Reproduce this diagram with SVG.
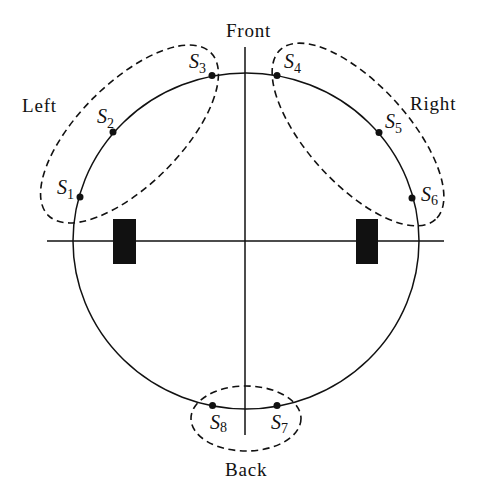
<svg xmlns="http://www.w3.org/2000/svg" width="480" height="500" viewBox="0 0 480 500">
<style>
.ln{fill:none;stroke:#111;stroke-width:1.5}
.dash{fill:none;stroke:#111;stroke-width:1.6;stroke-dasharray:7 4.5}
.dot{fill:#111}
.blk{fill:#111}
.lbl{font-family:"Liberation Serif",serif;font-size:19px;fill:#111;letter-spacing:0.8px}
.s{font-family:"Liberation Serif",serif;font-style:italic;font-size:20px;fill:#111}
.sub{font-style:normal;font-size:14px}
</style>
<rect width="480" height="500" fill="#fff"/>
<g id="connectors">
<line class="ln" x1="245" y1="47" x2="245" y2="435"/>
<line class="ln" x1="47" y1="241" x2="444" y2="241"/>
</g>
<g id="head">
<ellipse class="ln" cx="246" cy="241" rx="173" ry="168"/>
</g>
<g id="ear-left"><rect class="blk" x="113" y="219" width="23" height="45"/></g>
<g id="ear-right"><rect class="blk" x="356" y="219" width="22" height="45"/></g>
<g id="group-left">
<ellipse class="dash" cx="129.5" cy="134" rx="115" ry="51" transform="rotate(-45 129.5 134)"/>
<text class="lbl" x="22" y="112">Left</text>
</g>
<g id="group-right">
<ellipse class="dash" cx="358" cy="134.5" rx="115" ry="50" transform="rotate(47.6 358 134.5)"/>
<text class="lbl" x="410" y="110">Right</text>
</g>
<g id="group-back">
<ellipse class="dash" cx="246" cy="418.5" rx="55" ry="32.5"/>
<text class="lbl" x="225" y="476">Back</text>
</g>
<g id="front"><text class="lbl" x="226" y="37">Front</text></g>
<g id="S1"><circle class="dot" cx="80" cy="197" r="3.5"/><text class="s" x="57" y="194">S<tspan class="sub" dy="5">1</tspan></text></g>
<g id="S2"><circle class="dot" cx="113" cy="132" r="3.5"/><text class="s" x="97" y="123">S<tspan class="sub" dy="5">2</tspan></text></g>
<g id="S3"><circle class="dot" cx="212" cy="75.5" r="3.5"/><text class="s" x="189" y="68">S<tspan class="sub" dy="5">3</tspan></text></g>
<g id="S4"><circle class="dot" cx="277" cy="75.5" r="3.5"/><text class="s" x="284" y="68">S<tspan class="sub" dy="5">4</tspan></text></g>
<g id="S5"><circle class="dot" cx="379" cy="132.5" r="3.5"/><text class="s" x="385" y="128">S<tspan class="sub" dy="5">5</tspan></text></g>
<g id="S6"><circle class="dot" cx="412" cy="198" r="3.5"/><text class="s" x="421" y="201">S<tspan class="sub" dy="4">6</tspan></text></g>
<g id="S7"><circle class="dot" cx="277" cy="405.5" r="3.5"/><text class="s" x="271" y="429">S<tspan class="sub" dy="4">7</tspan></text></g>
<g id="S8"><circle class="dot" cx="212.5" cy="405.5" r="3.5"/><text class="s" x="210" y="429">S<tspan class="sub" dy="3">8</tspan></text></g>
</svg>
